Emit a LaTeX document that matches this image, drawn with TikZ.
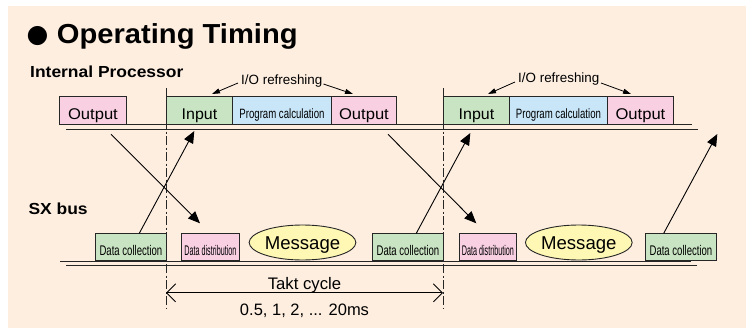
\documentclass[tikz,border=0pt]{standalone}
\usepackage{fontspec}
\setmainfont{Liberation Sans}
\newfontfamily\symfont{DejaVu Sans}
\usepackage{graphicx}
\usetikzlibrary{shapes.geometric,arrows.meta}
\definecolor{bg}{HTML}{FEEEE0}
\definecolor{pinkbox}{HTML}{F9D0E2}
\definecolor{greenbox}{HTML}{C9E4C2}
\definecolor{bluebox}{HTML}{C9E6F8}
\definecolor{yellowbox}{HTML}{FFF8B4}
\newcommand{\fs}[1]{\fontsize{#1}{#1}\selectfont}
\newcommand{\hs}[2]{\scalebox{#1}[1]{#2}}
\begin{document}
\begin{tikzpicture}[x=1pt,y=-1pt,
  boxbase/.style={draw=black!85, line width=0.9pt, inner sep=0pt, anchor=west, text depth=0pt},
  procbox/.style={boxbase, minimum height=27.6pt},
  busbox/.style={boxbase, minimum height=27.4pt},
  outbox/.style={procbox, fill=pinkbox, text height=17pt, font=\fs{15.5}},
  inbox/.style={procbox, fill=greenbox, text height=17pt, font=\fs{15.5}},
  calcbox/.style={procbox, fill=bluebox, text height=15pt, font=\fs{13.5}},
  collbox/.style={busbox, fill=greenbox, text height=16pt, font=\fs{14}},
  distbox/.style={busbox, fill=pinkbox, text height=16pt, font=\fs{14}},
  msg/.style={ellipse, draw=black!85, line width=0.9pt, fill=yellowbox, inner sep=0pt,
              minimum height=35pt, text height=13.3pt, text depth=0pt, font=\fs{18.6}},
  busline/.style={line width=1pt, black!85},
  cycleline/.style={line width=0.9pt, black!85, dash pattern=on 9pt off 2.5pt on 2pt off 2.5pt},
  diag/.style={line width=0.9pt, -{Triangle[length=12pt,width=10pt]}},
  ioarrow/.style={line width=0.8pt, -{Triangle[length=8pt,width=5pt]}},
  taktarrow/.style={line width=0.9pt, {Straight Barb[length=9pt,width=18pt]}-{Straight Barb[length=9pt,width=18pt]}},
  lbl/.style={inner sep=0pt, anchor=base west}
]
\useasboundingbox (0,0) rectangle (746,329);
\fill[bg] (8,6) rectangle (746,328);

% title and row labels
\node[lbl] (title) at (26.5,43.3) {\fs{27.5}\bfseries\makebox[30.2pt][l]{\symfont\fs{25}\raisebox{0.5pt}{●}}\hs{1.06}{Operating Timing}};
\node[lbl] (proclabel) at (30,77.3) {\fs{16}\bfseries\hs{1.09}{Internal Processor}};
\node[lbl] (buslabel) at (28.3,214.3) {\fs{16}\bfseries\hs{1.09}{SX bus}};

% bus lines
\draw[busline] (59,124.3) -- (692,124.3);
\draw[busline] (66,129) -- (698,129);
\draw[busline] (60,261) -- (691,261);
\draw[busline] (66,265) -- (697,265);

% cycle boundaries
\coordinate (c1top) at (166,88);
\coordinate (c1bot) at (166,309);
\coordinate (c2top) at (443,88);
\coordinate (c2bot) at (443,309);
\draw[cycleline] (c1top) -- (c1bot);
\draw[cycleline] (c2top) -- (c2bot);

% processor boxes
\node[outbox, minimum width=67pt] (out1) at (59,110.5) {\hs{1.07}{Output}};
\node[inbox, minimum width=66pt] (in1) at (166,110.5) {\hs{1.03}{Input}};
\node[calcbox, minimum width=99pt] (pc1) at (232,110.5) {\hs{0.713}{Program calculation}};
\node[outbox, minimum width=65pt] (out2) at (331,110.5) {\hs{1.07}{Output}};
\node[inbox, minimum width=66pt] (in2) at (443,110.5) {\hs{1.03}{Input}};
\node[calcbox, minimum width=98pt] (pc2) at (509,110.5) {\hs{0.713}{Program calculation}};
\node[outbox, minimum width=66pt] (out3) at (607,110.5) {\hs{1.07}{Output}};

% SX bus boxes
\node[collbox, minimum width=71pt] (dc1) at (95,247) {\hs{0.683}{Data collection}};
\node[distbox, minimum width=58pt] (dd1) at (181,247) {\hs{0.514}{Data distribution}};
\node[msg, minimum width=95pt] (msg1) at (302.5,242.5) {Message};
\node[collbox, minimum width=71pt] (dc2) at (372,247) {\hs{0.683}{Data collection}};
\node[distbox, minimum width=57.5pt] (dd2) at (458.7,247) {\hs{0.514}{Data distribution}};
\node[msg, minimum width=98pt] (msg2) at (578.8,242.5) {Message};
\node[collbox, minimum width=71pt] (dc3) at (645,247) {\hs{0.683}{Data collection}};

% I/O refreshing labels
\node[lbl] (io1) at (241,84) {\fs{13.4}I/O refreshing};
\node[lbl] (io2) at (518,82.7) {\fs{13.4}I/O refreshing};
\coordinate (io1a) at (238,83);
\coordinate (io1b) at (323.5,84);
\coordinate (io2a) at (515,82);
\coordinate (io2b) at (601,83);
\coordinate (in1top) at (212,94);
\coordinate (out2top) at (353,94);
\coordinate (in2top) at (488,94);
\coordinate (out3top) at (631,94);
\draw[ioarrow] (io1a) -- (in1top);
\draw[ioarrow] (io1b) -- (out2top);
\draw[ioarrow] (io2a) -- (in2top);
\draw[ioarrow] (io2b) -- (out3top);

% data exchange arrows
\coordinate (o1s) at (111,134.3);
\coordinate (d1t) at (200,223.3);
\coordinate (c1s) at (139.3,233.3);
\coordinate (i1t) at (194.3,131);
\coordinate (o2s) at (388,134.3);
\coordinate (d2t) at (476.3,223.3);
\coordinate (c2s) at (416.3,233.3);
\coordinate (i2t) at (470.3,133);
\coordinate (c3s) at (663.7,233.3);
\coordinate (i3t) at (717.3,134);
\draw[diag] (o1s) -- (d1t);
\draw[diag] (c1s) -- (i1t);
\draw[diag] (o2s) -- (d2t);
\draw[diag] (c2s) -- (i2t);
\draw[diag] (c3s) -- (i3t);

% takt cycle
\coordinate (t1) at (166,292.8);
\coordinate (t2) at (443,292.8);
\draw[taktarrow] (t1) -- (t2);
\node[inner sep=0pt, anchor=base] (takt) at (304.5,289) {\fs{16.7}Takt cycle};
\node[inner sep=0pt, anchor=base] (period) at (304.5,315) {\fs{16.5}0.5, 1, 2, ... 20ms};
\end{tikzpicture}
\end{document}
